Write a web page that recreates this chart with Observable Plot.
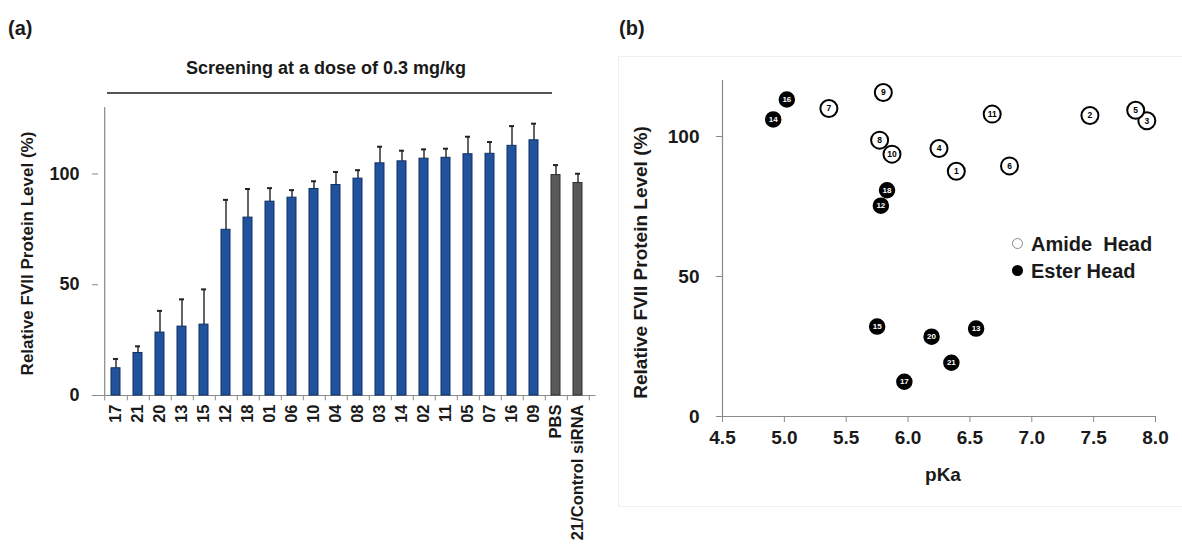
<!DOCTYPE html>
<html>
<head>
<meta charset="utf-8">
<script src="https://cdn.jsdelivr.net/npm/d3@7"></script>
<script src="https://cdn.jsdelivr.net/npm/@observablehq/plot@0.6"></script>
<style>
  html, body { margin: 0; padding: 0; background: #fff; }
  #wrap { position: relative; width: 1182px; height: 545px; overflow: hidden; font-family: "Liberation Sans", Arial, sans-serif; color: #1a1a1a; }
  .abs { position: absolute; }
  .panel { font-weight: bold; font-size: 20px; }
  svg { font-family: "Liberation Sans", Arial, sans-serif; }
</style>
</head>
<body>
<div id="wrap">
  <div class="abs panel" style="left:8px; top:17px;">(a)</div>
  <div class="abs panel" style="left:619px; top:17px;">(b)</div>
  <div class="abs" style="left:618px; top:56px; width:580px; height:449px; border:1px solid #f0f0f0;"></div>
  <div class="abs" style="left:96px; top:58px; width:460px; text-align:center; font-weight:bold; font-size:18px;">Screening at a dose of 0.3 mg/kg</div>
  <div class="abs" style="left:107px; top:92px; width:445px; height:2px; background:#555;"></div>
  <div id="left" class="abs" style="left:0; top:0;"></div>
  <div id="right" class="abs" style="left:600px; top:0;"></div>
  <div class="abs" style="left:1012px; top:233px; font-weight:bold; font-size:20px; line-height:22px;">
    <div><span style="display:inline-block;width:9px;height:9px;border:1.5px solid #888;border-radius:50%;margin-right:8px;vertical-align:2px;"></span>Amide&nbsp; Head</div>
    <div style="margin-top:5px;"><span style="display:inline-block;width:11px;height:11px;background:#000;border-radius:50%;margin-right:8px;vertical-align:2px;"></span>Ester Head</div>
  </div>
</div>
<script>
// ---- Panel (a) data ----
const lipids = ["17","21","20","13","15","12","18","01","06","10","04","08","03","14","02","11","05","07","16","09","PBS","21/Control siRNA"];
const fviiMean = [12.3,19.2,28.4,31.1,32.0,74.8,80.3,87.5,89.3,93.2,95.0,97.9,104.8,105.7,106.9,107.3,108.9,109.1,112.7,115.2,99.5,95.9];
const fviiSD   = [4.2,3.0,9.8,12.3,15.9,13.5,12.9,6.1,3.4,3.5,5.9,3.8,7.5,4.8,4.2,4.1,7.9,5.3,8.9,7.5,4.5,4.2];
const isControl = [false,false,false,false,false,false,false,false,false,false,false,false,false,false,false,false,false,false,false,false,true,true];
const yTicksA = [0, 50, 100];

// ---- Panel (b) data ----
const amideIds  = ["1","2","3","4","5","6","7","8","9","10","11"];
const amidePKa  = [6.39,7.47,7.93,6.25,7.84,6.82,5.36,5.77,5.80,5.87,6.68];
const amideFVII = [87.6,107.5,105.6,95.7,109.4,89.5,110.0,98.7,115.7,93.7,108.0];
const esterIds  = ["12","13","14","15","16","17","18","20","21"];
const esterPKa  = [5.78,6.55,4.91,5.75,5.02,5.97,5.83,6.19,6.35];
const esterFVII = [75.3,31.4,106.1,32.1,113.2,12.4,80.8,28.5,19.2];
const xTicksB = [4.5,5.0,5.5,6.0,6.5,7.0,7.5,8.0];
const yTicksB = [0, 50, 100];

const bars = lipids.map((id, i) => ({id, mean: fviiMean[i], sd: fviiSD[i], ctrl: isControl[i]}));
const amide = amideIds.map((id, i) => ({id, pka: amidePKa[i], v: amideFVII[i]}));
const ester = esterIds.map((id, i) => ({id, pka: esterPKa[i], v: esterFVII[i]}));

const W1 = 600, ML1 = 98, MR1 = 4.5;
const step = (W1 - ML1 - MR1) / lipids.length;
const ink = "#1a1a1a", axisGray = "#8a8a8a";

const left = Plot.plot({
  width: W1, height: 545,
  marginLeft: ML1, marginRight: MR1, marginTop: 107, marginBottom: 150,
  x: {domain: lipids, paddingInner: 0.6, paddingOuter: 0.3},
  y: {domain: [0, 130]},
  marks: [
    Plot.ruleY([0], {stroke: axisGray, strokeWidth: 1.2}),
    Plot.ruleX([lipids[0]], {dx: -step / 2, y1: 0, y2: 130, stroke: axisGray, strokeWidth: 1.2}),
    Plot.ruleX(lipids, {x: d => d, dx: step / 2, y1: 0, y2: -2.4, stroke: axisGray}),
    Plot.ruleX([lipids[0]], {dx: -step / 2, y1: 0, y2: -2.4, stroke: axisGray}),
    Plot.barY(bars, {x: "id", y: "mean", fill: d => d.ctrl ? "#595959" : "#21529c", stroke: d => d.ctrl ? "#2e2e2e" : "#0f2f66", strokeWidth: 1}),
    Plot.ruleX(bars, {x: "id", y1: "mean", y2: d => d.mean + d.sd, stroke: "#222", strokeWidth: 1.4}),
    Plot.tickY(bars, {x: "id", y: d => d.mean + d.sd, stroke: "#222", strokeWidth: 2, insetLeft: 2, insetRight: 2}),
    Plot.axisY({ticks: yTicksA, tickSize: 6, tickPadding: 13, stroke: axisGray, fontSize: 18, fontWeight: "bold", fill: ink, label: null}),
    Plot.axisX({tickRotate: -90, tickSize: 0, tickPadding: 9, fontSize: 16.5, fontWeight: "bold", fill: ink, label: null}),
    Plot.text(["Relative FVII Protein Level (%)"], {frameAnchor: "left", textAnchor: "middle", rotate: -90, dx: -71, dy: 2, fontSize: 17, fontWeight: "bold", fill: ink})
  ]
});
document.getElementById("left").appendChild(left);

const right = Plot.plot({
  width: 582, height: 545,
  marginLeft: 122, marginRight: 27, marginTop: 80, marginBottom: 129,
  x: {domain: [4.5, 8]},
  y: {domain: [0, 120]},
  marks: [
    Plot.ruleY([0], {stroke: axisGray, strokeWidth: 1.2}),
    Plot.ruleX([4.5], {y1: 0, y2: 120, stroke: axisGray, strokeWidth: 1.2}),
    Plot.axisX({ticks: xTicksB, tickFormat: d3.format(".1f"), tickSize: 6, tickPadding: 8, stroke: axisGray, fontSize: 19, fontWeight: "bold", fill: ink, label: null}),
    Plot.axisY({ticks: yTicksB, tickSize: 6, tickPadding: 17, stroke: axisGray, fontSize: 19, fontWeight: "bold", fill: ink, label: null}),
    Plot.dot(amide, {x: "pka", y: "v", r: 8.5, fill: "white", stroke: "black", strokeWidth: 2}),
    Plot.text(amide, {x: "pka", y: "v", text: "id", fontSize: 8.5, fontWeight: "bold", fill: "black"}),
    Plot.dot(ester, {x: "pka", y: "v", r: 7.5, fill: "black", stroke: "black"}),
    Plot.text(ester, {x: "pka", y: "v", text: "id", fontSize: 8, fontWeight: "bold", fill: "white"}),
    Plot.text(["Relative FVII Protein Level (%)"], {frameAnchor: "left", textAnchor: "middle", rotate: -90, dx: -82, dy: 14, fontSize: 19, fontWeight: "bold", fill: ink}),
    Plot.text(["pKa"], {frameAnchor: "bottom", dy: 64, dx: 4, fontSize: 19, fontWeight: "bold", fill: ink})
  ]
});
document.getElementById("right").appendChild(right);
</script>
</body>
</html>
